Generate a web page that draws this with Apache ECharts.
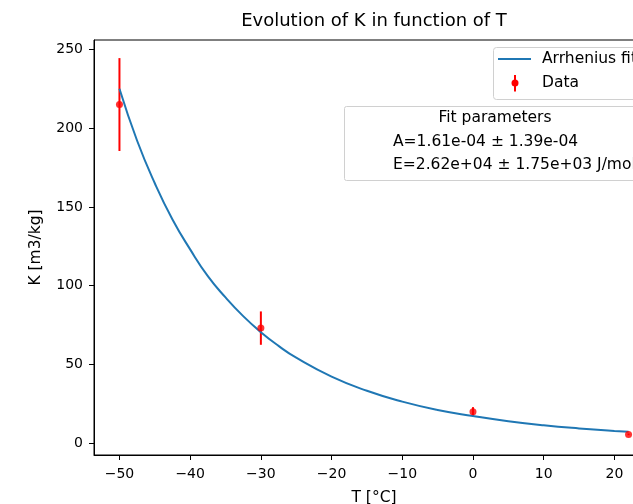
<!DOCTYPE html>
<html>
<head>
<meta charset="utf-8">
<script src="https://cdn.jsdelivr.net/npm/echarts@6/dist/echarts.min.js"></script>
<style>
html,body{margin:0;padding:0;overflow:hidden;background:#fff;}
#c{width:700px;height:504px;}
</style>
</head>
<body>
<div id="c"></div>
<script>
// Data
const dataT = [-50, -30, 0, 22];
const dataK = [215, 73, 19.8, 5.5];
const dataErr = [29.5, 10.6, 3.0, 0.5];

const curveT = [-50, -47.5, -45, -42.5, -40, -37.5, -35, -32.5, -30, -27.5, -25, -20, -15, -10, -5, 0, 5, 10, 15, 20, 22];
const curveK = [225, 192, 165, 142, 123, 106, 92.5, 80.6, 70.4, 61.7, 54.2, 42.2, 33.2, 26.3, 21.0, 17.2, 13.9, 11.3, 9.3, 7.7, 7.1];

const xTicks = [-50, -40, -30, -20, -10, 0, 10, 20];
const yTicks = [0, 50, 100, 150, 200, 250];

const titleText = 'Evolution of K in function of T';
const xName = 'T [°C]';
const yName = 'K [m3/kg]';
const legendLabels = ['Arrhenius fit', 'Data'];
const fitLines = ['Fit parameters', 'A=1.61e-04 ± 1.39e-04', 'E=2.62e+04 ± 1.75e+03 J/mol'];

const FONT = 'DejaVu Sans';
const chart = echarts.init(document.getElementById('c'));
const fmt = v => String(v).replace('-', '\u2212');

const option = {
  animation: false,
  backgroundColor: '#fff',
  textStyle: { fontFamily: FONT },
  grid: { left: 94, top: 40, width: 560, height: 415, outerBoundsMode: 'none', containLabel: false, show: true, borderColor: '#000', borderWidth: 1, backgroundColor: 'transparent' },
  xAxis: {
    type: 'value', min: -53.6, max: 25.6,
    name: xName, nameLocation: 'middle', nameGap: 35,
    nameTextStyle: { fontFamily: FONT, fontSize: 15.5, color: '#000' },
    axisLine: { show: true, onZero: false, lineStyle: { color: '#000', width: 1 } },
    axisTick: { show: true, length: 5, customValues: xTicks, lineStyle: { color: '#000' } },
    axisLabel: { customValues: xTicks, formatter: fmt, fontFamily: FONT, fontSize: 14, color: '#000', margin: 12 },
    splitLine: { show: false }
  },
  yAxis: {
    type: 'value', min: -7.6, max: 256,
    name: yName, nameLocation: 'middle', nameGap: 50, nameRotate: 90,
    nameTextStyle: { fontFamily: FONT, fontSize: 15.5, color: '#000' },
    axisLine: { show: true, onZero: false, lineStyle: { color: '#000', width: 1 } },
    axisTick: { show: true, length: 5, customValues: yTicks, lineStyle: { color: '#000' } },
    axisLabel: { customValues: yTicks, formatter: fmt, fontFamily: FONT, fontSize: 14, color: '#000', margin: 11 },
    splitLine: { show: false }
  },
  series: [
    {
      type: 'custom', z: 2,
      data: dataT.map((t, i) => [t, dataK[i], dataErr[i]]),
      renderItem: function (params, api) {
        const x = api.value(0), y = api.value(1), e = api.value(2);
        const p1 = api.coord([x, y + e]);
        const p2 = api.coord([x, y - e]);
        return { type: 'line', shape: { x1: p1[0], y1: p1[1], x2: p2[0], y2: p2[1] }, style: { stroke: '#ff0000', lineWidth: 2 } };
      }
    },
    {
      type: 'line', z: 3, showSymbol: false, smooth: true,
      data: curveT.map((t, i) => [t, curveK[i]]),
      lineStyle: { color: '#1f77b4', width: 2 }
    },
    {
      type: 'scatter', z: 4, symbolSize: 7,
      data: dataT.map((t, i) => [t, dataK[i]]),
      itemStyle: { color: '#ff0000' }
    }
  ],
  graphic: [
    { type: 'text', x: 374, y: 21, z: 10, style: { text: titleText, fontFamily: FONT, fontSize: 18, fill: '#000', align: 'center', verticalAlign: 'middle' } },
    { type: 'rect', z: 10, shape: { x: 493.5, y: 47.5, width: 210, height: 52, r: 3 }, style: { fill: 'rgba(255,255,255,0.8)', stroke: '#d0d0d0', lineWidth: 1 } },
    { type: 'line', z: 11, shape: { x1: 498, y1: 59, x2: 531, y2: 59 }, style: { stroke: '#1f77b4', lineWidth: 2 } },
    { type: 'text', z: 11, x: 542, y: 59, style: { text: legendLabels[0], fontFamily: FONT, fontSize: 15.5, fill: '#000', verticalAlign: 'middle' } },
    { type: 'line', z: 11, shape: { x1: 515, y1: 75, x2: 515, y2: 91.5 }, style: { stroke: '#ff0000', lineWidth: 2 } },
    { type: 'circle', z: 12, shape: { cx: 515, cy: 83, r: 3.5 }, style: { fill: '#ff0000' } },
    { type: 'text', z: 11, x: 542, y: 83, style: { text: legendLabels[1], fontFamily: FONT, fontSize: 15.5, fill: '#000', verticalAlign: 'middle' } },
    { type: 'rect', z: 10, shape: { x: 344.5, y: 106.5, width: 330, height: 74, r: 2 }, style: { fill: 'rgba(255,255,255,0.8)', stroke: '#d0d0d0', lineWidth: 1 } },
    { type: 'text', z: 11, x: 495, y: 118, style: { text: fitLines[0], fontFamily: FONT, fontSize: 15.5, fill: '#000', align: 'center', verticalAlign: 'middle' } },
    { type: 'text', z: 11, x: 393, y: 142, style: { text: fitLines[1], fontFamily: FONT, fontSize: 15.5, fill: '#000', verticalAlign: 'middle' } },
    { type: 'text', z: 11, x: 393, y: 165, style: { text: fitLines[2], fontFamily: FONT, fontSize: 15.5, fill: '#000', verticalAlign: 'middle' } }
  ]
};
chart.setOption(option);
</script>
</body>
</html>
